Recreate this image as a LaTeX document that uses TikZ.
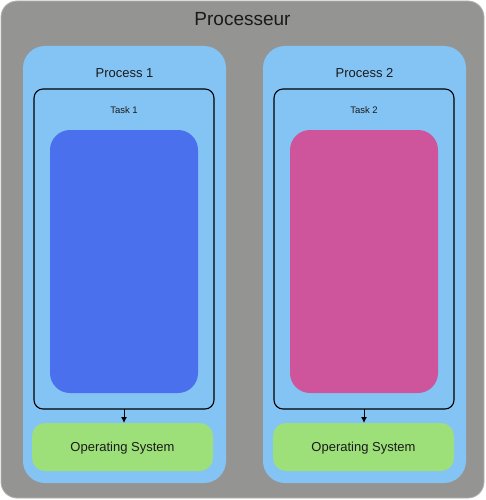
\documentclass[tikz,border=0pt]{standalone}
\usepackage{fontspec}
\setmainfont{Liberation Sans}
\usepackage{xcolor}
\usetikzlibrary{arrows.meta}
\definecolor{cpu}{HTML}{949492}
\definecolor{cpuedge}{HTML}{B4B4B2}
\definecolor{proc}{HTML}{83C4F5}
\definecolor{blueapp}{HTML}{4A70EE}
\definecolor{pinkapp}{HTML}{CE559B}
\definecolor{osgreen}{HTML}{9DE07A}
\definecolor{ink}{HTML}{1A1A1A}

\begin{document}
\begin{tikzpicture}[x=1pt,y=-1pt,
      every node/.style={inner sep=0pt,outer sep=0pt,text=ink},
      procbox/.style={rectangle,fill=proc,rounded corners=22pt,minimum width=203pt,minimum height=437pt},
      taskbox/.style={rectangle,draw=black,line width=1.1pt,rounded corners=9pt,minimum width=180pt,minimum height=320pt},
      appbox/.style={rectangle,rounded corners=20pt,minimum width=148pt,minimum height=263pt},
      osbox/.style={rectangle,fill=osgreen,rounded corners=13pt,minimum width=181pt,minimum height=48pt},
      oslabel/.style={font=\fontsize{13}{15}\selectfont},
      proclabel/.style={font=\fontsize{13}{15}\selectfont},
      tasklabel/.style={font=\fontsize{9.5}{11}\selectfont}]

      \useasboundingbox (0,0) rectangle (485,500);
      % processor
      \node[rectangle,fill=cpu,draw=cpuedge,line width=0.8pt,rounded corners=16pt,
        minimum width=483pt,minimum height=497pt] (cpu) at (242.5,249.5) {};
      \node[font=\fontsize{19}{22}\selectfont] (cpulabel) at (242.5,19) {Processeur};

      % process 1
      \node[procbox] (p1) at (124.5,264.5) {};
      \node[proclabel] (p1label) at (124.5,73) {Process 1};
      \node[taskbox] (t1) at (124,249) {};
      \node[tasklabel] (t1label) at (124,110.5) {Task 1};
      \node[appbox,fill=blueapp] (a1) at (124,261.5) {};
      \node[osbox] (os1) at (122.5,447) {};
      \node[oslabel] (os1label) at (122.5,448.5) {Operating System};

      % process 2
      \node[procbox] (p2) at (364.5,264.5) {};
      \node[proclabel] (p2label) at (364.5,73) {Process 2};
      \node[taskbox] (t2) at (364,249) {};
      \node[tasklabel] (t2label) at (364,110.5) {Task 2};
      \node[appbox,fill=pinkapp] (a2) at (364,261.5) {};
      \node[osbox] (os2) at (363.5,447) {};
      \node[oslabel] (os2label) at (363.5,448.5) {Operating System};

      \draw[-{Latex[length=6pt,width=6pt]},line width=1pt] (t1.south) -- (t1.south |- os1.north);
      \draw[-{Latex[length=6pt,width=6pt]},line width=1pt] (t2.south) -- (t2.south |- os2.north);
\end{tikzpicture}
\end{document}
